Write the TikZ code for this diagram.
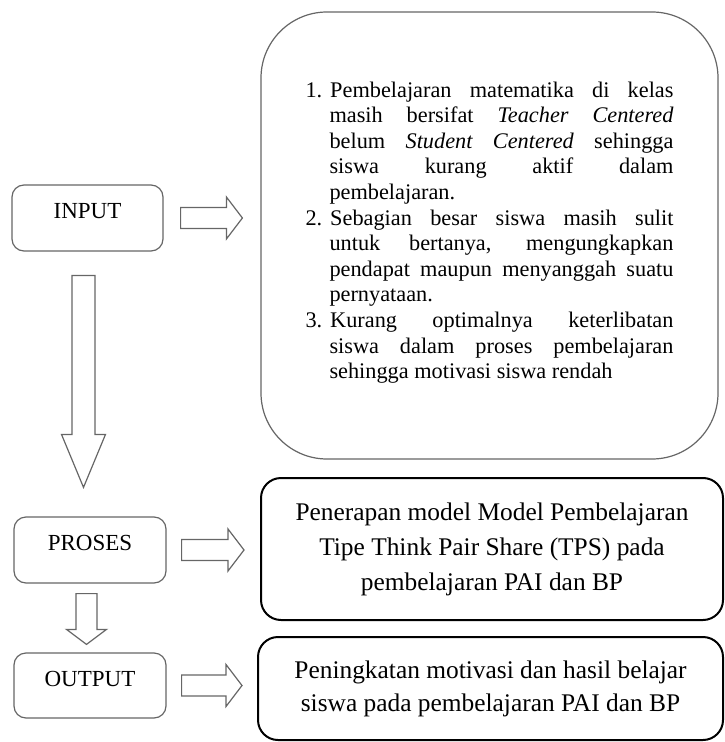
\documentclass[tikz,border=0pt]{standalone}
\usepackage{fontspec}
\setmainfont{Liberation Serif}
\usetikzlibrary{calc}

\begin{document}
\begin{tikzpicture}[
    x=0.5pt, y=-0.5pt,
    stage/.style={draw=black!60, line width=0.6pt, rounded corners=6pt, minimum height=33pt, inner sep=0pt, font=\fontsize{11.5}{13}\selectfont, text height=6pt, text depth=5.5pt},
    listbox/.style={draw=black!60, line width=0.6pt, rounded corners=33pt, minimum width=228.5pt, minimum height=223.5pt, inner sep=0pt, text width=184pt, align=justify, font=\fontsize{11.15}{12.8}\selectfont},
    resultbox/.style={draw=black, line width=1pt, rounded corners=10pt, inner sep=0pt, align=center, font=\fontsize{12.7}{17.5}\selectfont},
    rarrow/.style={draw=black!60, line width=0.6pt, to path={let \p1=(\tikztostart), \p2=(\tikztotarget) in (\x1,\y1+5.25pt) -- (\x2-8pt,\y1+5.25pt) -- (\x2-8pt,\y1+10.5pt) -- (\x2,\y1) -- (\x2-8pt,\y1-10.5pt) -- (\x2-8pt,\y1-5.25pt) -- (\x1,\y1-5.25pt) -- cycle}},
    darrow/.style n args={3}{draw=black!60, line width=0.6pt, to path={let \p1=(\tikztostart), \p2=(\tikztotarget) in (\x1-#1,\y1) -- (\x1-#1,\y2+#3) -- (\x1-#2,\y2+#3) -- (\x1,\y2) -- (\x1+#2,\y2+#3) -- (\x1+#1,\y2+#3) -- (\x1+#1,\y1) -- cycle}}
]
\useasboundingbox (0,0) rectangle (724,742);

\node[stage, minimum width=75.5pt] (input) at (87.5,218) {INPUT};
\node[stage, minimum width=76pt] (proses) at (90,550) {PROSES};
\node[stage, minimum width=76pt, minimum height=32.5pt] (output) at (90,685.5) {OUTPUT};

\node[listbox] (list) at (489.5,235.5) {%
\begin{list}{\arabic{enumi}.}{\usecounter{enumi}\setlength{\leftmargin}{12pt}\setlength{\labelwidth}{8pt}\setlength{\labelsep}{4pt}\setlength{\itemsep}{0pt}\setlength{\parsep}{0pt}\setlength{\topsep}{0pt}\setlength{\partopsep}{0pt}}
\item Pembelajaran matematika di kelas\linebreak masih bersifat \textit{Teacher Centered}\linebreak belum \textit{Student Centered} sehingga\linebreak siswa kurang aktif dalam\linebreak pembelajaran.
\item Sebagian besar siswa masih sulit\linebreak untuk bertanya, mengungkapkan\linebreak pendapat maupun menyanggah suatu\linebreak pernyataan.
\item Kurang optimalnya keterlibatan\linebreak siswa dalam proses pembelajaran\linebreak sehingga motivasi siswa rendah
\end{list}\par\vskip8pt\hrule height0pt width0pt};

\node[resultbox, minimum width=231pt, minimum height=71pt] (tps) at (492,549) {Penerapan model Model Pembelajaran\\Tipe Think Pair Share (TPS) pada\\pembelajaran PAI dan BP};
\node[resultbox, minimum width=232.5pt, minimum height=51.5pt, font=\fontsize{12.7}{16.5}\selectfont] (hasil) at (490.5,688.5) {Peningkatan motivasi dan hasil belajar\\siswa pada pembelajaran PAI dan BP};

\draw[rarrow] ([xshift=8.5pt]input.east) to ([xshift=-9pt]list.west);
\draw[rarrow] ([xshift=7.5pt]proses.east) to ([xshift=-8pt]tps.west);
\draw[rarrow] ([xshift=7.5pt]output.east) to ([xshift=-7.5pt]hasil.west);
\draw[darrow={5.75pt}{11pt}{26.5pt}] ([xshift=-2pt,yshift=-12pt]input.south) to ([yshift=14.5pt]proses.north);
\draw[darrow={5.25pt}{10pt}{7.5pt}] ([xshift=-1.75pt,yshift=-5pt]proses.south) to ([yshift=4pt]output.north);
\end{tikzpicture}
\end{document}
